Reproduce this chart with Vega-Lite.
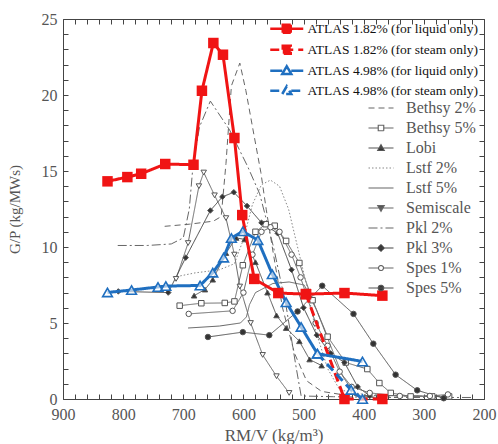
{
 "$schema": "https://vega.github.io/schema/vega-lite/v6.json",
 "width": 421, "height": 380,
 "autosize": "none",
 "padding": {"left": 63, "top": 19, "right": 14, "bottom": 45},
 "background": "white",
 "config": {"view": {"stroke": "#444", "strokeWidth": 1}, "font": "Liberation Serif"},
 "data": {"values": [
  {"s":"ATLAS 1.82% (for liquid only)","t":"a","i":1,"x":826,"y":14.32},
  {"s":"ATLAS 1.82% (for liquid only)","t":"a","i":2,"x":793,"y":14.6},
  {"s":"ATLAS 1.82% (for liquid only)","t":"a","i":3,"x":770,"y":14.82},
  {"s":"ATLAS 1.82% (for liquid only)","t":"a","i":4,"x":730,"y":15.46},
  {"s":"ATLAS 1.82% (for liquid only)","t":"a","i":5,"x":683,"y":15.41},
  {"s":"ATLAS 1.82% (for liquid only)","t":"a","i":6,"x":669,"y":20.28},
  {"s":"ATLAS 1.82% (for liquid only)","t":"a","i":7,"x":650,"y":23.42},
  {"s":"ATLAS 1.82% (for liquid only)","t":"a","i":8,"x":634,"y":22.65},
  {"s":"ATLAS 1.82% (for liquid only)","t":"a","i":9,"x":615,"y":17.17},
  {"s":"ATLAS 1.82% (for liquid only)","t":"a","i":10,"x":602,"y":12.1},
  {"s":"ATLAS 1.82% (for liquid only)","t":"a","i":11,"x":582,"y":7.9},
  {"s":"ATLAS 1.82% (for liquid only)","t":"a","i":12,"x":542,"y":6.97},
  {"s":"ATLAS 1.82% (for liquid only)","t":"a","i":13,"x":496,"y":6.9},
  {"s":"ATLAS 1.82% (for liquid only)","t":"a","i":14,"x":432,"y":6.97},
  {"s":"ATLAS 1.82% (for liquid only)","t":"a","i":15,"x":369,"y":6.8},
  {"s":"ATLAS 1.82% (for steam only)","t":"a","i":1,"x":496,"y":6.9},
  {"s":"ATLAS 1.82% (for steam only)","t":"a","i":2,"x":432,"y":0},
  {"s":"ATLAS 1.82% (for steam only)","t":"a","i":3,"x":369,"y":0},
  {"s":"ATLAS 4.98% (for liquid only)","t":"a","i":1,"x":826,"y":7.01},
  {"s":"ATLAS 4.98% (for liquid only)","t":"a","i":2,"x":786,"y":7.17},
  {"s":"ATLAS 4.98% (for liquid only)","t":"a","i":3,"x":742,"y":7.37},
  {"s":"ATLAS 4.98% (for liquid only)","t":"a","i":4,"x":729,"y":7.43},
  {"s":"ATLAS 4.98% (for liquid only)","t":"a","i":5,"x":672,"y":7.47},
  {"s":"ATLAS 4.98% (for liquid only)","t":"a","i":6,"x":651,"y":8.31},
  {"s":"ATLAS 4.98% (for liquid only)","t":"a","i":7,"x":633,"y":9.3},
  {"s":"ATLAS 4.98% (for liquid only)","t":"a","i":8,"x":620,"y":10.59},
  {"s":"ATLAS 4.98% (for liquid only)","t":"a","i":9,"x":601,"y":11.03},
  {"s":"ATLAS 4.98% (for liquid only)","t":"a","i":10,"x":576,"y":10.45},
  {"s":"ATLAS 4.98% (for liquid only)","t":"a","i":11,"x":552,"y":8.21},
  {"s":"ATLAS 4.98% (for liquid only)","t":"a","i":12,"x":529,"y":6.36},
  {"s":"ATLAS 4.98% (for liquid only)","t":"a","i":13,"x":504,"y":4.74},
  {"s":"ATLAS 4.98% (for liquid only)","t":"a","i":14,"x":477,"y":2.98},
  {"s":"ATLAS 4.98% (for liquid only)","t":"a","i":15,"x":402,"y":2.47},
  {"s":"ATLAS 4.98% (for steam only)","t":"a","i":1,"x":477,"y":2.98},
  {"s":"ATLAS 4.98% (for steam only)","t":"a","i":2,"x":421,"y":0.6},
  {"s":"ATLAS 4.98% (for steam only)","t":"a","i":3,"x":402,"y":0},

  {"s":"Bethsy 2%","t":"g","i":1,"x":731,"y":11.36},
  {"s":"Bethsy 2%","t":"g","i":2,"x":690,"y":11.5},
  {"s":"Bethsy 2%","t":"g","i":3,"x":650,"y":11.7},
  {"s":"Bethsy 2%","t":"g","i":4,"x":637,"y":12.0},
  {"s":"Bethsy 2%","t":"g","i":5,"x":629,"y":15.5},
  {"s":"Bethsy 2%","t":"g","i":6,"x":620,"y":20.6},
  {"s":"Bethsy 2%","t":"g","i":7,"x":606,"y":22.1},
  {"s":"Bethsy 2%","t":"g","i":8,"x":596,"y":20.3},
  {"s":"Bethsy 2%","t":"g","i":9,"x":584,"y":17.7},
  {"s":"Bethsy 2%","t":"g","i":10,"x":571,"y":14.9},
  {"s":"Bethsy 2%","t":"g","i":11,"x":562,"y":12.45},
  {"s":"Bethsy 2%","t":"g","i":12,"x":550,"y":9.5},
  {"s":"Bethsy 2%","t":"g","i":13,"x":535,"y":6.0},
  {"s":"Bethsy 2%","t":"g","i":14,"x":515,"y":3.0},
  {"s":"Bethsy 2%","t":"g","i":15,"x":495,"y":1.2},
  {"s":"Bethsy 2%","t":"g","i":16,"x":470,"y":0.5},
  {"s":"Bethsy 2%","t":"g","i":17,"x":430,"y":0.25},
  {"s":"Bethsy 2%","t":"g","i":18,"x":350,"y":0.2},
  {"s":"Bethsy 2%","t":"g","i":19,"x":250,"y":0.2},

  {"s":"Bethsy 5%","t":"g","i":1,"x":706,"y":6.14},
  {"s":"Bethsy 5%","t":"g","i":2,"x":670,"y":6.3},
  {"s":"Bethsy 5%","t":"g","i":3,"x":631,"y":6.32},
  {"s":"Bethsy 5%","t":"g","i":4,"x":615,"y":6.42},
  {"s":"Bethsy 5%","t":"g","i":5,"x":601,"y":8.8},
  {"s":"Bethsy 5%","t":"g","i":6,"x":580,"y":11.0},
  {"s":"Bethsy 5%","t":"g","i":7,"x":563,"y":11.5},
  {"s":"Bethsy 5%","t":"g","i":8,"x":548,"y":11.4},
  {"s":"Bethsy 5%","t":"g","i":9,"x":529,"y":10.4},
  {"s":"Bethsy 5%","t":"g","i":10,"x":507,"y":8.95},
  {"s":"Bethsy 5%","t":"g","i":11,"x":485,"y":6.5},
  {"s":"Bethsy 5%","t":"g","i":12,"x":460,"y":4.1},
  {"s":"Bethsy 5%","t":"g","i":13,"x":430,"y":2.4},
  {"s":"Bethsy 5%","t":"g","i":14,"x":394,"y":1.97},
  {"s":"Bethsy 5%","t":"g","i":15,"x":374,"y":1.05},
  {"s":"Bethsy 5%","t":"g","i":16,"x":355,"y":0.4},
  {"s":"Bethsy 5%","t":"g","i":17,"x":322,"y":0.17},
  {"s":"Bethsy 5%","t":"g","i":18,"x":286,"y":0.17},
  {"s":"Bethsy 5%","t":"g","i":19,"x":258,"y":0.17},

  {"s":"Lobi","t":"g","i":1,"x":682,"y":6.8},
  {"s":"Lobi","t":"g","i":2,"x":664,"y":7.2},
  {"s":"Lobi","t":"g","i":3,"x":651,"y":7.85},
  {"s":"Lobi","t":"g","i":4,"x":629,"y":9.6},
  {"s":"Lobi","t":"g","i":5,"x":612,"y":10.6},
  {"s":"Lobi","t":"g","i":6,"x":598,"y":10.5},
  {"s":"Lobi","t":"g","i":7,"x":580,"y":9.0},
  {"s":"Lobi","t":"g","i":8,"x":560,"y":7.0},
  {"s":"Lobi","t":"g","i":9,"x":545,"y":5.5},
  {"s":"Lobi","t":"g","i":10,"x":529,"y":4.67},
  {"s":"Lobi","t":"g","i":11,"x":507,"y":3.8},
  {"s":"Lobi","t":"g","i":12,"x":490,"y":2.6},
  {"s":"Lobi","t":"g","i":13,"x":470,"y":2.2},

  {"s":"Lstf 2%","t":"g","i":1,"x":705,"y":8.1},
  {"s":"Lstf 2%","t":"g","i":2,"x":680,"y":8.3},
  {"s":"Lstf 2%","t":"g","i":3,"x":640,"y":8.5},
  {"s":"Lstf 2%","t":"g","i":4,"x":615,"y":8.9},
  {"s":"Lstf 2%","t":"g","i":5,"x":600,"y":10.5},
  {"s":"Lstf 2%","t":"g","i":6,"x":585,"y":12.8},
  {"s":"Lstf 2%","t":"g","i":7,"x":570,"y":14.1},
  {"s":"Lstf 2%","t":"g","i":8,"x":555,"y":14.4},
  {"s":"Lstf 2%","t":"g","i":9,"x":540,"y":14.0},
  {"s":"Lstf 2%","t":"g","i":10,"x":525,"y":12.5},
  {"s":"Lstf 2%","t":"g","i":11,"x":510,"y":10.0},
  {"s":"Lstf 2%","t":"g","i":12,"x":495,"y":7.5},
  {"s":"Lstf 2%","t":"g","i":13,"x":480,"y":4.5},
  {"s":"Lstf 2%","t":"g","i":14,"x":460,"y":2.0},
  {"s":"Lstf 2%","t":"g","i":15,"x":440,"y":0.6},
  {"s":"Lstf 2%","t":"g","i":16,"x":400,"y":0.3},
  {"s":"Lstf 2%","t":"g","i":17,"x":300,"y":0.2},

  {"s":"Lstf 5%","t":"g","i":1,"x":692,"y":4.67},
  {"s":"Lstf 5%","t":"g","i":2,"x":640,"y":4.8},
  {"s":"Lstf 5%","t":"g","i":3,"x":605,"y":5.0},
  {"s":"Lstf 5%","t":"g","i":4,"x":595,"y":5.4},
  {"s":"Lstf 5%","t":"g","i":5,"x":590,"y":6.2},
  {"s":"Lstf 5%","t":"g","i":6,"x":580,"y":7.0},
  {"s":"Lstf 5%","t":"g","i":7,"x":551,"y":7.6},
  {"s":"Lstf 5%","t":"g","i":8,"x":524,"y":7.7},
  {"s":"Lstf 5%","t":"g","i":9,"x":499,"y":7.5},
  {"s":"Lstf 5%","t":"g","i":10,"x":479,"y":5.9},
  {"s":"Lstf 5%","t":"g","i":11,"x":457,"y":3.7},
  {"s":"Lstf 5%","t":"g","i":12,"x":435,"y":1.5},
  {"s":"Lstf 5%","t":"g","i":13,"x":413,"y":0.2},
  {"s":"Lstf 5%","t":"g","i":14,"x":380,"y":0.1},

  {"s":"Semiscale","t":"g","i":1,"x":712,"y":7.9},
  {"s":"Semiscale","t":"g","i":2,"x":692,"y":10.26},
  {"s":"Semiscale","t":"g","i":3,"x":674,"y":14.0},
  {"s":"Semiscale","t":"g","i":4,"x":666,"y":14.9},
  {"s":"Semiscale","t":"g","i":5,"x":648,"y":13.4},
  {"s":"Semiscale","t":"g","i":6,"x":629,"y":11.9},
  {"s":"Semiscale","t":"g","i":7,"x":615,"y":9.5},
  {"s":"Semiscale","t":"g","i":8,"x":606,"y":7.4},
  {"s":"Semiscale","t":"g","i":9,"x":588,"y":5.0},
  {"s":"Semiscale","t":"g","i":10,"x":568,"y":2.9},
  {"s":"Semiscale","t":"g","i":11,"x":545,"y":1.5},
  {"s":"Semiscale","t":"g","i":12,"x":524,"y":0.4},

  {"s":"Pkl 2%","t":"g","i":1,"x":809,"y":10.1},
  {"s":"Pkl 2%","t":"g","i":2,"x":760,"y":10.1},
  {"s":"Pkl 2%","t":"g","i":3,"x":720,"y":10.2},
  {"s":"Pkl 2%","t":"g","i":4,"x":700,"y":10.6},
  {"s":"Pkl 2%","t":"g","i":5,"x":690,"y":12.5},
  {"s":"Pkl 2%","t":"g","i":6,"x":684,"y":15.3},
  {"s":"Pkl 2%","t":"g","i":7,"x":673,"y":17.9},
  {"s":"Pkl 2%","t":"g","i":8,"x":655,"y":19.6},
  {"s":"Pkl 2%","t":"g","i":9,"x":623,"y":17.7},
  {"s":"Pkl 2%","t":"g","i":10,"x":593,"y":15.3},
  {"s":"Pkl 2%","t":"g","i":11,"x":573,"y":13.5},
  {"s":"Pkl 2%","t":"g","i":12,"x":550,"y":10.0},
  {"s":"Pkl 2%","t":"g","i":13,"x":529,"y":6.1},
  {"s":"Pkl 2%","t":"g","i":14,"x":512,"y":2.0},
  {"s":"Pkl 2%","t":"g","i":15,"x":504,"y":0.2},
  {"s":"Pkl 2%","t":"g","i":16,"x":450,"y":0.15},
  {"s":"Pkl 2%","t":"g","i":17,"x":350,"y":0.1},
  {"s":"Pkl 2%","t":"g","i":18,"x":220,"y":0.1},

  {"s":"Pkl 3%","t":"g","i":1,"x":808,"y":7.08},
  {"s":"Pkl 3%","t":"g","i":2,"x":725,"y":7.0},
  {"s":"Pkl 3%","t":"g","i":3,"x":696,"y":9.3},
  {"s":"Pkl 3%","t":"g","i":4,"x":655,"y":12.4},
  {"s":"Pkl 3%","t":"g","i":5,"x":635,"y":13.3},
  {"s":"Pkl 3%","t":"g","i":6,"x":616,"y":13.6},
  {"s":"Pkl 3%","t":"g","i":7,"x":594,"y":12.7},
  {"s":"Pkl 3%","t":"g","i":8,"x":570,"y":11.6},
  {"s":"Pkl 3%","t":"g","i":9,"x":543,"y":10.9},
  {"s":"Pkl 3%","t":"g","i":10,"x":520,"y":8.5},
  {"s":"Pkl 3%","t":"g","i":11,"x":500,"y":6.0},
  {"s":"Pkl 3%","t":"g","i":12,"x":478,"y":4.2},
  {"s":"Pkl 3%","t":"g","i":13,"x":455,"y":3.0},
  {"s":"Pkl 3%","t":"g","i":14,"x":432,"y":2.4},
  {"s":"Pkl 3%","t":"g","i":15,"x":410,"y":0.8},
  {"s":"Pkl 3%","t":"g","i":16,"x":390,"y":0.2},

  {"s":"Spes 1%","t":"g","i":1,"x":691,"y":5.6},
  {"s":"Spes 1%","t":"g","i":2,"x":618,"y":5.8},
  {"s":"Spes 1%","t":"g","i":3,"x":600,"y":7.0},
  {"s":"Spes 1%","t":"g","i":4,"x":585,"y":9.5},
  {"s":"Spes 1%","t":"g","i":5,"x":570,"y":11.0},
  {"s":"Spes 1%","t":"g","i":6,"x":555,"y":11.3},
  {"s":"Spes 1%","t":"g","i":7,"x":540,"y":11.0},
  {"s":"Spes 1%","t":"g","i":8,"x":520,"y":9.5},
  {"s":"Spes 1%","t":"g","i":9,"x":505,"y":8.0},
  {"s":"Spes 1%","t":"g","i":10,"x":480,"y":5.0},
  {"s":"Spes 1%","t":"g","i":11,"x":460,"y":3.5},
  {"s":"Spes 1%","t":"g","i":12,"x":440,"y":1.8},
  {"s":"Spes 1%","t":"g","i":13,"x":420,"y":0.8},
  {"s":"Spes 1%","t":"g","i":14,"x":390,"y":0.4},
  {"s":"Spes 1%","t":"g","i":15,"x":340,"y":0.2},
  {"s":"Spes 1%","t":"g","i":16,"x":290,"y":0.2},
  {"s":"Spes 1%","t":"g","i":17,"x":260,"y":0.3},

  {"s":"Spes 5%","t":"g","i":1,"x":659,"y":4.08},
  {"s":"Spes 5%","t":"g","i":2,"x":601,"y":4.4},
  {"s":"Spes 5%","t":"g","i":3,"x":557,"y":4.2},
  {"s":"Spes 5%","t":"g","i":4,"x":510,"y":5.76},
  {"s":"Spes 5%","t":"g","i":5,"x":469,"y":7.45},
  {"s":"Spes 5%","t":"g","i":6,"x":417,"y":5.6},
  {"s":"Spes 5%","t":"g","i":7,"x":384,"y":3.64},
  {"s":"Spes 5%","t":"g","i":8,"x":347,"y":1.6},
  {"s":"Spes 5%","t":"g","i":9,"x":311,"y":0.57},
  {"s":"Spes 5%","t":"g","i":10,"x":267,"y":0.05}
 ]},
 "layer": [
  {
   "transform": [{"filter": "datum.t == 'g'"}],
   "mark": {"type": "line", "strokeWidth": 1},
   "encoding": {
    "x": {"field": "x", "type": "quantitative", "scale": {"domain": [200, 900], "reverse": true, "nice": false, "zero": false},
     "axis": {"orient": "bottom", "values": [200,220,240,260,280,300,320,340,360,380,400,420,440,460,480,500,520,540,560,580,600,620,640,660,680,700,720,740,760,780,800,820,840,860,880,900],
      "labelExpr": "datum.value % 100 === 0 ? datum.label : ''", "labelOverlap": false, "labelFlush": false, "labelBound": false,
      "tickSize": -5, "tickColor": "#444", "labelPadding": 12, "domain": false, "grid": false,
      "labelFont": "Liberation Serif", "labelFontSize": 16, "labelColor": "#555",
      "title": "RM/V (kg/m³)", "titleFont": "Liberation Serif", "titleFontSize": 17, "titleFontWeight": "normal", "titleColor": "#555", "titlePadding": 5}},
    "y": {"field": "y", "type": "quantitative", "scale": {"domain": [0, 25], "nice": false},
     "axis": {"orient": "left", "values": [0,1,2,3,4,5,6,7,8,9,10,11,12,13,14,15,16,17,18,19,20,21,22,23,24,25],
      "labelExpr": "datum.value % 5 === 0 ? datum.label : ''", "labelOverlap": false, "labelFlush": false, "labelBound": false,
      "tickSize": -5, "tickColor": "#444", "labelPadding": 11, "domain": false, "grid": false,
      "labelFont": "Liberation Serif", "labelFontSize": 16, "labelColor": "#555",
      "title": "G/P (kg/MWs)", "titleFont": "Liberation Serif", "titleFontSize": 15, "titleFontWeight": "normal", "titleColor": "#555", "titlePadding": 19}},
    "order": {"field": "i", "type": "quantitative"},
    "color": {"field": "s", "type": "nominal",
     "scale": {"domain": ["Bethsy 2%","Bethsy 5%","Lobi","Lstf 2%","Lstf 5%","Semiscale","Pkl 2%","Pkl 3%","Spes 1%","Spes 5%"],
      "range": ["#666","#666","#555","#888","#666","#666","#666","#444","#666","#555"]},
     "legend": {"title": null, "orient": "none", "legendX": 310, "legendY": 81, "padding": 0,
      "symbolSize": 100, "symbolStrokeWidth": 1.2, "labelFont": "Liberation Serif", "labelFontSize": 16, "labelColor": "#555",
      "labelOffset": 17, "rowPadding": 4,
      "encode": {"symbols": {"update": {
        "shape": {"signal": "['M-2.5,0H2.5','M-2.5,0H-0.55M0.55,0H2.5M-0.55,-0.55H0.55V0.55H-0.55Z','M-2.5,0H2.5M-0.65,0.5L0,-0.65L0.65,0.5Z','M-2.5,0H2.5','M-2.5,0H2.5','M-2.5,0H2.5M-0.65,-0.5L0,0.65L0.65,-0.5Z','M-2.5,0H2.5','M-2.5,0H2.5M0,-0.65L0.65,0L0,0.65L-0.65,0Z','M-2.5,0H-0.5M0.5,0H2.5M-0.5,0A0.5,0.5,0,1,0,0.5,0A0.5,0.5,0,1,0,-0.5,0Z','M-2.5,0H2.5M-0.55,0A0.55,0.55,0,1,0,0.55,0A0.55,0.55,0,1,0,-0.55,0Z'][datum.index]"},
        "fill": {"signal": "['transparent','white','#333','transparent','transparent','#555','transparent','#333','white','#333'][datum.index]"}
      }}}}},
    "strokeDash": {"field": "s", "type": "nominal",
     "scale": {"domain": ["Bethsy 2%","Bethsy 5%","Lobi","Lstf 2%","Lstf 5%","Semiscale","Pkl 2%","Pkl 3%","Spes 1%","Spes 5%"],
      "range": [[6,4],[1,0],[1,0],[1.5,2],[1,0],[1,0],[9,3,2,3],[1,0],[1,0],[1,0]]},
     "legend": {"title": null, "orient": "none", "legendX": 310, "legendY": 81, "padding": 0,
      "symbolSize": 100, "symbolStrokeWidth": 1.2, "labelFont": "Liberation Serif", "labelFontSize": 16, "labelColor": "#555",
      "labelOffset": 17, "rowPadding": 4,
      "encode": {"symbols": {"update": {
        "shape": {"signal": "['M-2.5,0H2.5','M-2.5,0H-0.55M0.55,0H2.5M-0.55,-0.55H0.55V0.55H-0.55Z','M-2.5,0H2.5M-0.65,0.5L0,-0.65L0.65,0.5Z','M-2.5,0H2.5','M-2.5,0H2.5','M-2.5,0H2.5M-0.65,-0.5L0,0.65L0.65,-0.5Z','M-2.5,0H2.5','M-2.5,0H2.5M0,-0.65L0.65,0L0,0.65L-0.65,0Z','M-2.5,0H-0.5M0.5,0H2.5M-0.5,0A0.5,0.5,0,1,0,0.5,0A0.5,0.5,0,1,0,-0.5,0Z','M-2.5,0H2.5M-0.55,0A0.55,0.55,0,1,0,0.55,0A0.55,0.55,0,1,0,-0.55,0Z'][datum.index]"},
        "fill": {"signal": "['transparent','white','#333','transparent','transparent','#555','transparent','#333','white','#333'][datum.index]"}
      }}}}}
   }
  },
  {
   "transform": [{"filter": "indexof(['Bethsy 5%','Lobi','Semiscale','Pkl 3%','Spes 1%','Spes 5%'], datum.s) >= 0"}],
   "mark": {"type": "point", "size": 30, "strokeWidth": 1, "stroke": "#555", "opacity": 1},
   "encoding": {
    "x": {"field": "x", "type": "quantitative",
     "axis": {"orient": "top", "values": [200,220,240,260,280,300,320,340,360,380,400,420,440,460,480,500,520,540,560,580,600,620,640,660,680,700,720,740,760,780,800,820,840,860,880,900],
      "labels": false, "tickSize": -5, "tickColor": "#444", "domain": false, "grid": false, "title": null}},
    "y": {"field": "y", "type": "quantitative",
     "axis": {"orient": "right", "values": [0,1,2,3,4,5,6,7,8,9,10,11,12,13,14,15,16,17,18,19,20,21,22,23,24,25],
      "labels": false, "tickSize": -5, "tickColor": "#444", "domain": false, "grid": false, "title": null}},
    "shape": {"field": "s", "type": "nominal",
     "scale": {"domain": ["Bethsy 5%","Lobi","Semiscale","Pkl 3%","Spes 1%","Spes 5%"], "range": ["square","triangle-up","triangle-down","diamond","circle","circle"]},
     "legend": null},
    "fill": {"field": "s", "type": "nominal",
     "scale": {"domain": ["Bethsy 5%","Lobi","Semiscale","Pkl 3%","Spes 1%","Spes 5%"], "range": ["white","#333","white","#333","white","#333"]},
     "legend": null}
   }
  },
  {
   "transform": [{"filter": "datum.t == 'a'"}],
   "mark": {"type": "line", "strokeWidth": 3},
   "encoding": {
    "x": {"field": "x", "type": "quantitative", "axis": null},
    "y": {"field": "y", "type": "quantitative", "axis": null},
    "order": {"field": "i", "type": "quantitative"},
    "color": {"field": "s", "type": "nominal",
     "scale": {"domain": ["ATLAS 1.82% (for liquid only)","ATLAS 1.82% (for steam only)","ATLAS 4.98% (for liquid only)","ATLAS 4.98% (for steam only)"],
      "range": ["#f01414","#f01414","#1f6fc0","#1f6fc0"]},
     "legend": {"title": null, "orient": "none", "legendX": 217, "legendY": 3, "padding": 0,
      "symbolSize": 100, "symbolStrokeWidth": 2.5, "labelFont": "Liberation Serif", "labelFontSize": 13.5, "labelColor": "#111",
      "labelOffset": 14, "rowPadding": 2, "labelLimit": 300,
      "encode": {"symbols": {"update": {
        "shape": {"signal": "['M-3.3,0H3.3M-0.8,-0.8H0.8V0.8H-0.8Z','M-3.3,0H3.3M-0.8,-0.8H0.8V0.8H-0.8Z','M-3.3,0H-0.9M0.9,0H3.3M-0.9,0.65L0,-0.9L0.9,0.65Z','M-3.3,0H-0.9M0.9,0H3.3M-0.9,0.65L0,-0.9L0.9,0.65Z'][datum.index]"},
        "fill": {"signal": "['#f01414','#f01414','white','white'][datum.index]"}
      }}}}},
    "strokeDash": {"field": "s", "type": "nominal",
     "scale": {"domain": ["ATLAS 1.82% (for liquid only)","ATLAS 1.82% (for steam only)","ATLAS 4.98% (for liquid only)","ATLAS 4.98% (for steam only)"],
      "range": [[1,0],[9,5],[1,0],[9,5]]},
     "legend": {"title": null, "orient": "none", "legendX": 217, "legendY": 3, "padding": 0,
      "symbolSize": 100, "symbolStrokeWidth": 2.5, "labelFont": "Liberation Serif", "labelFontSize": 13.5, "labelColor": "#111",
      "labelOffset": 14, "rowPadding": 2, "labelLimit": 300,
      "encode": {"symbols": {"update": {
        "shape": {"signal": "['M-3.3,0H3.3M-0.8,-0.8H0.8V0.8H-0.8Z','M-3.3,0H3.3M-0.8,-0.8H0.8V0.8H-0.8Z','M-3.3,0H-0.9M0.9,0H3.3M-0.9,0.65L0,-0.9L0.9,0.65Z','M-3.3,0H-0.9M0.9,0H3.3M-0.9,0.65L0,-0.9L0.9,0.65Z'][datum.index]"},
        "fill": {"signal": "['#f01414','#f01414','white','white'][datum.index]"}
      }}}}}
   }
  },
  {
   "transform": [{"filter": "indexof(['ATLAS 1.82% (for liquid only)','ATLAS 1.82% (for steam only)'], datum.s) >= 0"}],
   "mark": {"type": "point", "shape": "square", "filled": true, "size": 110, "color": "#f01414", "opacity": 1},
   "encoding": {
    "x": {"field": "x", "type": "quantitative", "axis": null},
    "y": {"field": "y", "type": "quantitative", "axis": null}
   }
  },
  {
   "transform": [{"filter": "indexof(['ATLAS 4.98% (for liquid only)','ATLAS 4.98% (for steam only)'], datum.s) >= 0"}],
   "mark": {"type": "point", "shape": "triangle-up", "size": 95, "fill": "white", "fillOpacity": 0.6, "stroke": "#1f6fc0", "strokeWidth": 1.6, "opacity": 1},
   "encoding": {
    "x": {"field": "x", "type": "quantitative", "axis": null},
    "y": {"field": "y", "type": "quantitative", "axis": null}
   }
  }
 ],
 "resolve": {
  "scale": {"color": "independent", "strokeDash": "independent"},
  "axis": {"x": "independent", "y": "independent"},
  "legend": {"color": "independent", "strokeDash": "independent"}
 }
}
